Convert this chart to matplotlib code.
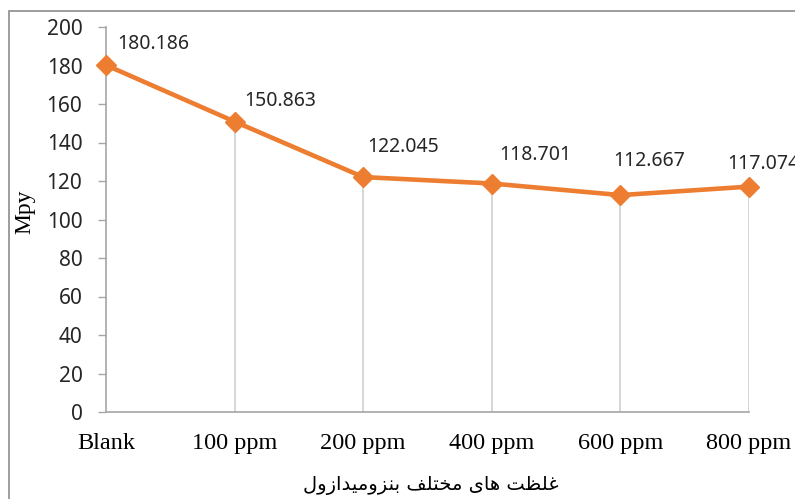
import matplotlib.pyplot as plt
from matplotlib.patches import Rectangle

categories = ['Blank', '100 ppm', '200 ppm', '400 ppm', '600 ppm', '800 ppm']
mpy = [180.186, 150.863, 122.045, 118.701, 112.667, 117.074]
labels = ['180.186', '150.863', '122.045', '118.701', '112.667', '117.074']
yticks = [0, 20, 40, 60, 80, 100, 120, 140, 160, 180, 200]

# label offsets (px), Excel nudges them around
label_dx = [11, 10, 4, 7, -7, -22]
label_dy = [21, 21, 30, 29, 34, 23]

# Persian axis title, pre-shaped presentation forms in logical order
title_logical = ('\uFECF\uFEE0\uFEC8\uFE96 '
                 '\uFEEB\uFE8E\uFBFC '
                 '\uFEE3\uFEA8\uFE98\uFEE0\uFED2 '
                 '\uFE91\uFEE8\uFEB0\uFEED\uFEE3\uFBFF\uFEAA\uFE8D\uFEAF\uFEED\uFEDD')
xtitle = title_logical[::-1]

orange = '#ED7D31'
grey = '#a6a6a6'

fig = plt.figure(figsize=(7.95, 4.99), dpi=100)
ax = fig.add_axes([106 / 795, 1 - 412 / 499, 643 / 795, 385 / 499])

# chart border (cropped on the right and bottom in the reference)
fig.patches.append(Rectangle((9 / 795, -0.1), 1.2, 1 - 11 / 499 + 0.1,
                             transform=fig.transFigure, fill=False,
                             edgecolor='#8c8c8c', linewidth=1.2))

x = list(range(len(categories)))
ax.vlines(x[1:], 0, mpy[1:], color='#cfcfcf', linewidth=1.2, zorder=1)
ax.plot(x, mpy, color=orange, linewidth=3.3, marker='D', markersize=10.5,
        zorder=3, clip_on=False)

for i, (xi, yi) in enumerate(zip(x, mpy)):
    ax.annotate(labels[i], (xi, yi), xytext=(label_dx[i] * 0.72, label_dy[i] * 0.72),
                textcoords='offset points', ha='left', va='center',
                fontsize=14, family='Noto Sans', color='#262626',
                annotation_clip=False)

ax.set_xlim(0, 5)
ax.set_ylim(0, 200)
ax.set_yticks(yticks)
ax.set_xticks(x)
ax.set_xticklabels(categories, family='Liberation Serif', fontsize=17.5)
for t in ax.get_yticklabels():
    t.set_family('Noto Sans')
    t.set_fontsize(15)
ax.tick_params(axis='x', length=0, pad=15, colors='black')
ax.tick_params(axis='y', length=6, width=1, color=grey, pad=11, labelcolor='#262626')

for s in ['top', 'right']:
    ax.spines[s].set_visible(False)
ax.spines['left'].set_color(grey)
ax.spines['bottom'].set_color(grey)
ax.spines['left'].set_linewidth(1.2)
ax.spines['bottom'].set_linewidth(1.2)

ax.set_ylabel('Mpy', family='Liberation Serif', fontsize=17)
ax.yaxis.set_label_coords(-0.110, 0.52)
ax.set_xlabel(xtitle, family=['DejaVu Sans'], fontsize=14)
ax.xaxis.label.set_va('center')
ax.xaxis.set_label_coords(0.505, -0.19)

fig.savefig('out.png', dpi=100)
